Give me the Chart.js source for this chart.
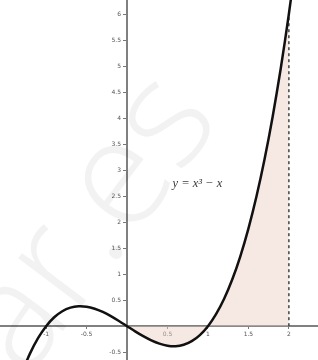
<!DOCTYPE html>
<html>
<head>
<meta charset="utf-8">
<script src="https://cdn.jsdelivr.net/npm/chart.js@4"></script>
<style>
  html, body { margin: 0; padding: 0; background: #fff; }
  #wrap { width: 318px; height: 360px; position: relative; }
</style>
</head>
<body>
<div id="wrap"><canvas id="chart"></canvas></div>
<script>
// --- DATOS ---
const curveX = [-1.3, -1.2, -1.1, -1.0, -0.9, -0.8, -0.7, -0.6, -0.5, -0.4, -0.3, -0.2, -0.1,
                0, 0.1, 0.2, 0.3, 0.4, 0.5, 0.6, 0.7, 0.8, 0.9, 1.0, 1.1, 1.2, 1.3, 1.4,
                1.5, 1.6, 1.7, 1.8, 1.9, 2.0, 2.1];
const curveY = [-0.897, -0.528, -0.231, 0, 0.171, 0.288, 0.357, 0.384, 0.375, 0.336, 0.273, 0.192, 0.099,
                0, -0.099, -0.192, -0.273, -0.336, -0.375, -0.384, -0.357, -0.288, -0.171, 0, 0.231, 0.528, 0.897, 1.344,
                1.875, 2.496, 3.213, 4.032, 4.959, 6.0, 7.161];
const areaFrom = 0;
const areaTo = 2;
const xTicks = [-1, -0.5, 0.5, 1, 1.5, 2];
const yTicks = [-0.5, 0.5, 1, 1.5, 2, 2.5, 3, 3.5, 4, 4.5, 5, 5.5, 6];
const curveLabel = 'y = x³ − x';

const curvePts = curveX.map((x, i) => ({ x: x, y: curveY[i] }));
const areaPts = curvePts.filter(p => p.x >= areaFrom && p.x <= areaTo);
const edgePts = [{ x: areaTo, y: 0 }, { x: areaTo, y: areaPts[areaPts.length - 1].y }];

// marca de agua y etiqueta de la curva
const extras = {
  id: 'extras',
  beforeDatasetsDraw(chart) {
    const c = chart.ctx;
    c.save();
    c.translate(124, 250);
    c.rotate(-53 * Math.PI / 180);
    c.fillStyle = 'rgba(0,0,0,0.05)';
    c.font = '300 150px "Open Sans"';
    c.textBaseline = 'alphabetic';
    c.textAlign = 'center';
    c.fillText('ar.es', 0, 0);
    c.restore();
  },
  afterDatasetsDraw(chart) {
    const c = chart.ctx;
    const xs = chart.scales.x, ys = chart.scales.y;
    c.save();
    c.fillStyle = '#3a3a3a';
    c.font = 'italic 12.5px "Liberation Serif"';
    c.textBaseline = 'middle';
    c.textAlign = 'center';
    c.fillText(curveLabel, xs.getPixelForValue(0.87), ys.getPixelForValue(2.73));
    c.restore();
  }
};

const tickFont = { size: 6, family: 'DejaVu Sans' };

new Chart(document.getElementById('chart'), {
  type: 'scatter',
  data: {
    datasets: [
      {
        data: areaPts,
        showLine: true,
        borderWidth: 0,
        pointRadius: 0,
        fill: 'origin',
        backgroundColor: 'rgba(236, 205, 192, 0.45)',
        tension: 0.3,
        order: 3
      },
      {
        data: edgePts,
        showLine: true,
        borderColor: '#444',
        borderWidth: 1.5,
        borderDash: [3, 3],
        pointRadius: 0,
        order: 2
      },
      {
        data: curvePts,
        showLine: true,
        borderColor: '#111',
        borderWidth: 2.5,
        pointRadius: 0,
        tension: 0.3,
        clip: false,
        order: 1
      }
    ]
  },
  options: {
    responsive: true,
    maintainAspectRatio: false,
    animation: false,
    layout: { padding: 0 },
    plugins: { legend: { display: false }, tooltip: { enabled: false } },
    scales: {
      x: {
        type: 'linear',
        min: -1.57, max: 2.36,
        position: { y: 0 },
        afterBuildTicks: s => { s.ticks = xTicks.map(v => ({ value: v })); },
        grid: { drawOnChartArea: false, tickLength: 2, color: '#777' },
        border: { color: '#808080', width: 2 },
        ticks: { color: '#555', font: tickFont, padding: 3, maxRotation: 0, autoSkip: false }
      },
      y: {
        type: 'linear',
        min: -0.65, max: 6.27,
        position: { x: 0 },
        afterBuildTicks: s => { s.ticks = yTicks.map(v => ({ value: v })); },
        grid: { drawOnChartArea: false, tickLength: 3, color: '#777' },
        border: { color: '#808080', width: 2 },
        // con el eje centrado la etiqueta queda pegada al eje: se separa con un espacio
        ticks: { color: '#555', font: tickFont, padding: -9, autoSkip: false,
                 callback: v => v + '\u2003' }
      }
    }
  },
  plugins: [extras]
});
</script>
</body>
</html>
